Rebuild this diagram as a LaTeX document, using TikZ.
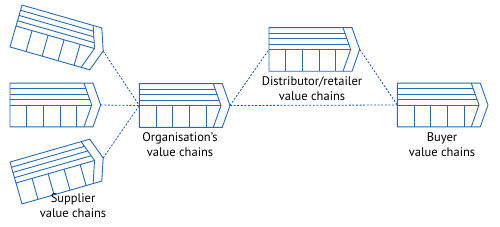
\documentclass[tikz,border=0pt]{standalone}
\usepackage{fontspec}
\setmainfont{PT Sans}
\usetikzlibrary{positioning}
\definecolor{chainblue}{RGB}{40,105,180}
\definecolor{linkblue}{RGB}{30,85,165}
\tikzset{
  chainicon/.pic={
    % outline with chevron
    \draw[chainline] (0,-21.8) -- (0,21.8) -- (83,21.8) -- (90.7,0) -- (83,-21.8) -- cycle;
    \draw[chainline] (74,21.8) -- (81.7,0) -- (74,-21.8);
    % support activities
    \foreach \y in {16.4,11,5.5}
      \draw[chainline] (0,\y) -- ({74+7.7*(21.8-\y)/21.8},\y);
    \draw[chainline] (0,0) -- (81.7,0);
    % primary activities
    \foreach \x in {16.7,33.4,50,66.7}
      \draw[chainline] (\x,0) -- (\x,-21.8);
    \coordinate (-in) at (0,0);
    \coordinate (-tip) at (90.7,0);
  }
}

\begin{document}
\begin{tikzpicture}[x=1pt, y=1pt,
  chainline/.style={draw=chainblue, line width=0.9pt, line join=miter},
  link/.style={draw=linkblue, line width=0.8pt, dash pattern=on 2pt off 1.6pt},
  caption/.style={align=center, font=\fontsize{12.5}{15}\selectfont, inner sep=0pt}]
\useasboundingbox (0,0) rectangle (500,-227);
% Supplier value chains
\pic[rotate=-16] (supA) at (16,-26) {chainicon};
\pic (supB) at (10,-105) {chainicon};
\pic[rotate=16] (supC) at (16,-183) {chainicon};
\node[caption] (suplabel) at (73,-206) {Supplier\\value chains};
% Organisation
\pic (org) at (139.3,-105.5) {chainicon};
\node[caption] (orglabel) at (180,-145) {Organisation’s\\value chains};
% Distributor/retailer
\pic (dist) at (269,-49.5) {chainicon};
\node[caption] (distlabel) at (312,-88.5) {Distributor/retailer\\value chains};
% Buyer
\pic (buy) at (397.3,-105) {chainicon};
\node[caption] (buylabel) at (442,-144.5) {Buyer\\value chains};
% Links
\draw[link] (supA-tip) -- (org-in);
\draw[link] (supB-tip) -- (org-in);
\draw[link] (supC-tip) -- (org-in);
\draw[link] (org-tip) -- (dist-in);
\draw[link] (dist-tip) -- (buy-in);
\draw[link] (org-tip) -- (buy-in);
\end{tikzpicture}
\end{document}
